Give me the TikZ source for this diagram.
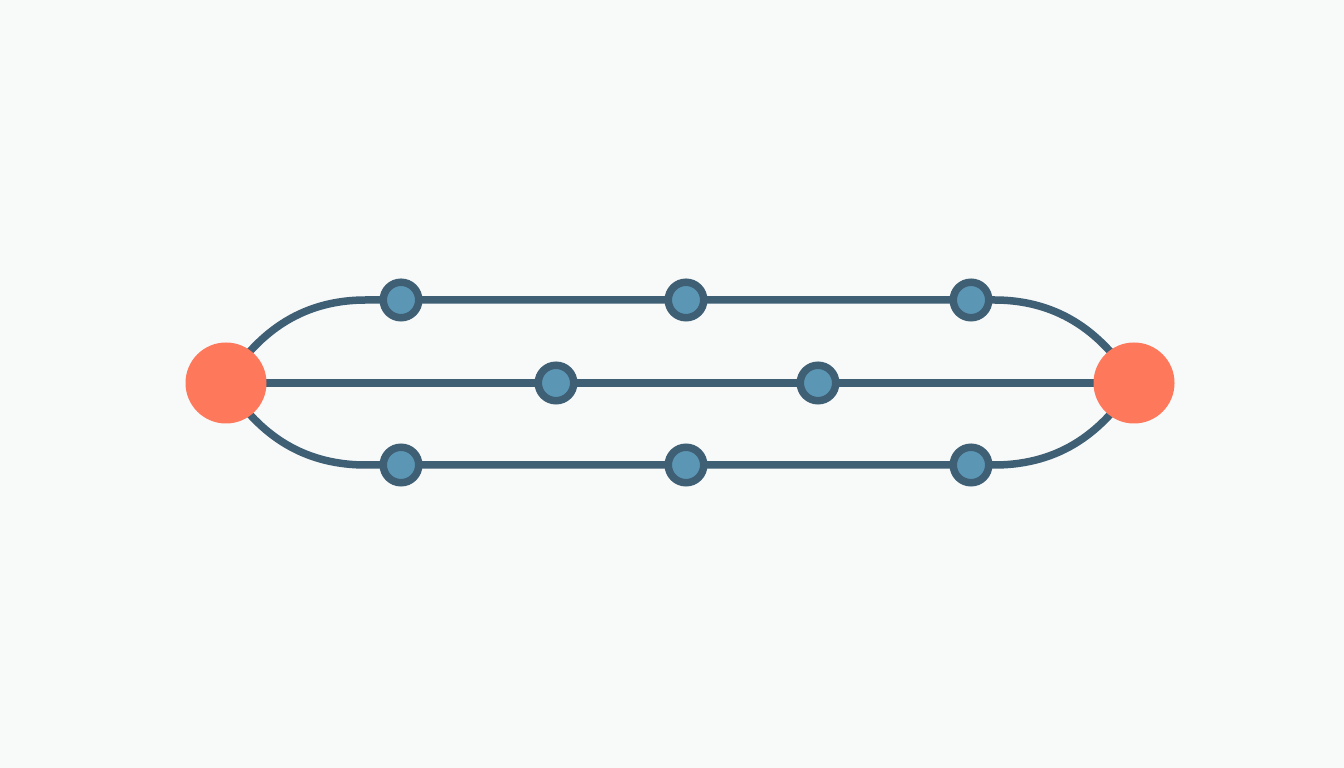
\documentclass[tikz,border=0pt]{standalone}
\usetikzlibrary{backgrounds}
\begin{document}
\begin{tikzpicture}[x=1pt,y=1pt,
  hub/.style={circle,fill=hubc,draw=none,minimum size=81pt,inner sep=0pt},
  stop/.style={circle,fill=stopc,draw=linec,line width=7.5pt,minimum size=35.5pt,inner sep=0pt},
  wire/.style={draw=linec,line width=7.5pt}]
\definecolor{bgc}{HTML}{F8F9F9}
\definecolor{hubc}{HTML}{FE785C}
\definecolor{stopc}{HTML}{5B96B5}
\definecolor{linec}{HTML}{3F5F75}
\useasboundingbox (0,0) rectangle (1344,768);
\node[hub] (L) at (226,385) {};
\node[hub] (R) at (1134,385) {};
\node[stop] (t1) at (401,468) {};
\node[stop] (t2) at (686,468) {};
\node[stop] (t3) at (971,468) {};
\node[stop] (m1) at (556,385) {};
\node[stop] (m2) at (818,385) {};
\node[stop] (b1) at (401,303) {};
\node[stop] (b2) at (686,303) {};
\node[stop] (b3) at (971,303) {};
\coordinate (tl) at (366,468);
\coordinate (tr) at (994,468);
\coordinate (bl) at (366,303);
\coordinate (br) at (994,303);
\begin{scope}[on background layer]
\fill[bgc] (0,0) rectangle (1344,768);
\draw[wire] (L.center) .. controls (256,432) and (298,468) .. (tl) -- (t1.center) -- (t2.center) -- (t3.center) -- (tr)
  .. controls (1062,468) and (1104,432) .. (R.center);
\draw[wire] (L.center) .. controls (256,338) and (298,303) .. (bl) -- (b1.center) -- (b2.center) -- (b3.center) -- (br)
  .. controls (1062,303) and (1104,338) .. (R.center);
\draw[wire] (L.center) -- (m1.center) -- (m2.center) -- (R.center);
\end{scope}
\end{tikzpicture}
\end{document}
